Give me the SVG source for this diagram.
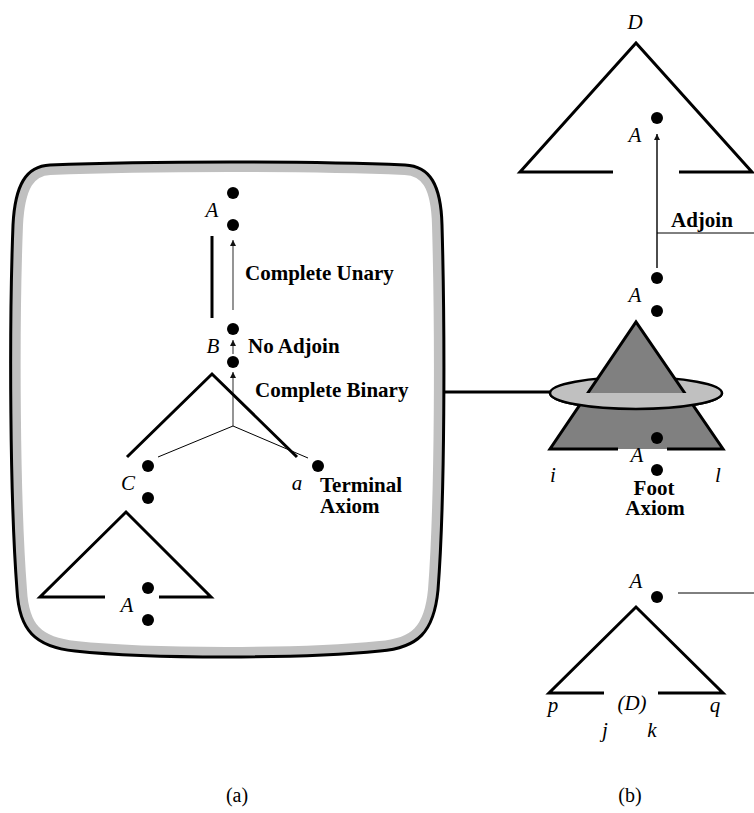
<svg xmlns="http://www.w3.org/2000/svg" width="754" height="813" viewBox="0 0 754 813">
<style>
.it{font-family:"Liberation Serif","Times New Roman",serif;font-style:italic;font-size:21px;fill:#000;text-anchor:middle}
.bd{font-family:"Liberation Serif","Times New Roman",serif;font-weight:bold;font-size:21px;fill:#000}
.rg{font-family:"Liberation Serif","Times New Roman",serif;font-size:20px;fill:#000;text-anchor:middle}
.dot{fill:#000}
.tri{fill:none;stroke:#000;stroke-width:3;stroke-linejoin:miter}
.thin{fill:none;stroke:#000;stroke-width:1}
.garrow{fill:none;stroke:#7a7a7a;stroke-width:1.6;marker-end:url(#ah)}
.barrow{fill:none;stroke:#000;stroke-width:1.4;marker-end:url(#ah)}
</style>
<defs>
<marker id="ah" viewBox="0 0 10 10" refX="10" refY="5" markerWidth="10" markerHeight="6" markerUnits="userSpaceOnUse" orient="auto">
<path d="M0,0 L10,5 L0,10 Z" fill="#111"/>
</marker>
<path id="boxshape" d="M50,165 C150,161 310,161 405,165 C430,166 441,185 442,225 C445,330 445,500 438,590 C434,632 418,648 380,651 C300,659 150,659 75,651 C35,647 19,630 17,590 C10,500 9,330 13,225 C15,185 26,166 50,165 Z"/>
<clipPath id="boxclip"><use href="#boxshape"/></clipPath>
</defs>
<rect width="754" height="813" fill="#fff"/>

<g id="box-a">
<use href="#boxshape" fill="#fff"/>
<use href="#boxshape" fill="none" stroke="#c0c0c0" stroke-width="20" clip-path="url(#boxclip)"/>
<use href="#boxshape" fill="none" stroke="#000" stroke-width="3"/>
</g>

<g id="connectors">
<line x1="444" y1="392" x2="551" y2="392" stroke="#000" stroke-width="3"/>
<line class="garrow" x1="233" y1="310" x2="233" y2="240"/>
<line class="garrow" x1="233" y1="354" x2="233" y2="340"/>
<line class="garrow" x1="233" y1="426" x2="233" y2="372"/>
<line class="thin" x1="233" y1="426" x2="158" y2="457"/>
<line class="thin" x1="233" y1="426" x2="308" y2="458"/>
<line class="barrow" x1="657" y1="268" x2="657" y2="134"/>
<line class="thin" x1="657" y1="233" x2="754" y2="233"/>
<line class="thin" x1="678" y1="593" x2="754" y2="593"/>
</g>

<g id="node-A-top">
<circle class="dot" cx="233" cy="193" r="6"/>
<circle class="dot" cx="233" cy="225" r="6"/>
<text class="it" x="212" y="217">A</text>
<line x1="212" y1="236" x2="212" y2="318" stroke="#000" stroke-width="3"/>
<text class="bd" x="245" y="280">Complete Unary</text>
</g>

<g id="node-B">
<circle class="dot" cx="233" cy="329" r="6"/>
<circle class="dot" cx="233" cy="362" r="6"/>
<text class="it" x="213" y="353">B</text>
<text class="bd" x="248" y="353">No Adjoin</text>
<path class="tri" d="M127,457 L212,374 L297,457"/>
<text class="bd" x="255" y="397">Complete Binary</text>
</g>

<g id="node-C">
<circle class="dot" cx="148" cy="466" r="6"/>
<circle class="dot" cx="148" cy="498" r="6"/>
<text class="it" x="128" y="490">C</text>
<path class="tri" d="M105,597 H40 L126,512 L211,597 H159"/>
<circle class="dot" cx="148" cy="588" r="6"/>
<circle class="dot" cx="148" cy="620" r="6"/>
<text class="it" x="127" y="612">A</text>
</g>

<g id="node-a">
<circle class="dot" cx="318" cy="466" r="6"/>
<text class="it" x="297" y="490">a</text>
<text class="bd" x="320" y="492">Terminal</text>
<text class="bd" x="320" y="513">Axiom</text>
</g>

<g id="node-D">
<text class="it" x="635" y="29">D</text>
<path class="tri" d="M613,172 H520 L636,43 L752,172 H679"/>
<circle class="dot" cx="657" cy="118" r="6"/>
<text class="it" x="635" y="142">A</text>
<text class="bd" x="671" y="227">Adjoin</text>
</g>

<g id="node-aux">
<text class="it" x="635" y="302">A</text>
<circle class="dot" cx="657" cy="278" r="6"/>
<circle class="dot" cx="657" cy="311" r="6"/>
<ellipse cx="636" cy="393" rx="86" ry="16" fill="#c0c0c0" stroke="#000" stroke-width="2.5"/>
<polygon points="550,449 636,322 723,449" fill="#808080"/>
<path class="tri" d="M618,449 H550 L636,322 L723,449 H667"/>
<path d="M550,393 A86,16 0 0 0 722,393 Z" fill="#c0c0c0"/>
<path d="M550,393 A86,16 0 0 0 722,393" fill="none" stroke="#000" stroke-width="2.5"/>
<circle class="dot" cx="657" cy="438" r="6"/>
<circle class="dot" cx="657" cy="470" r="6"/>
<text class="it" x="637" y="462">A</text>
<text class="it" x="553" y="482">i</text>
<text class="it" x="718" y="482">l</text>
<text class="bd" x="654" y="495" text-anchor="middle">Foot</text>
<text class="bd" x="655" y="515" text-anchor="middle">Axiom</text>
</g>

<g id="node-A-bottom">
<text class="it" x="636" y="588">A</text>
<circle class="dot" cx="657" cy="597" r="6"/>
<path class="tri" d="M604,693 H549 L636,607 L723,693 H658"/>
<text class="it" x="632" y="710">(D)</text>
<text class="it" x="553" y="712">p</text>
<text class="it" x="715" y="712">q</text>
<text class="it" x="605" y="737">j</text>
<text class="it" x="652" y="737">k</text>
</g>

<g id="captions">
<text class="rg" x="237" y="802">(a)</text>
<text class="rg" x="630" y="802">(b)</text>
</g>
</svg>
